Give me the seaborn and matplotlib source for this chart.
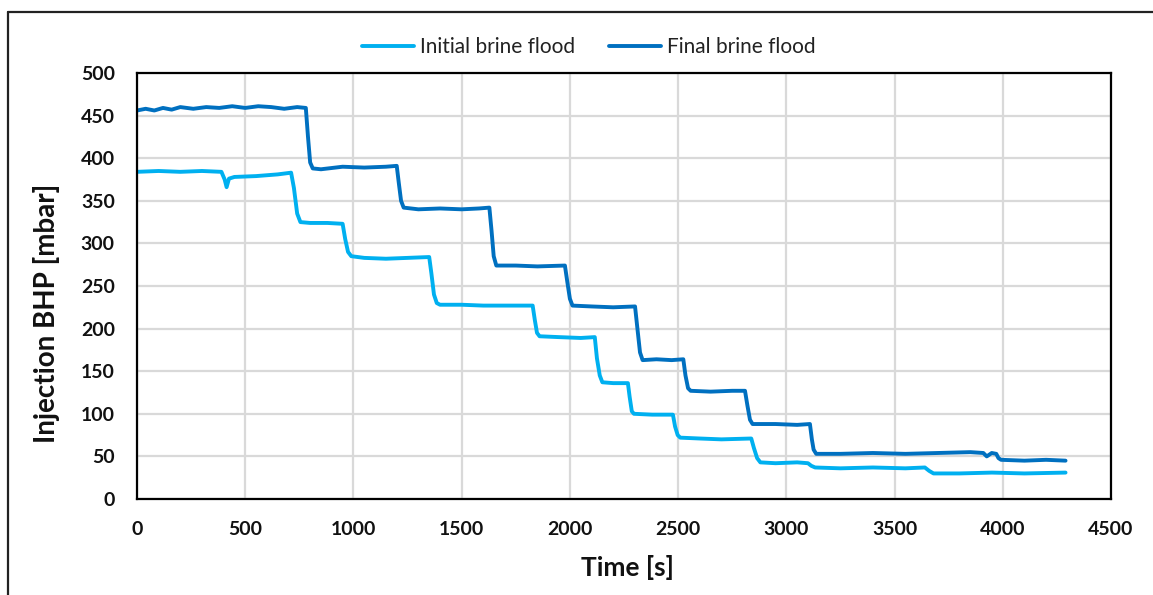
import matplotlib
matplotlib.use("Agg")
import matplotlib.pyplot as plt
from matplotlib.lines import Line2D
import seaborn as sns
import pandas as pd

# ---------------- data ----------------
initial_time = [
    0, 100, 200, 300, 390, 405, 414, 425, 450, 550, 650, 712,
    725, 740, 755, 800, 880, 950,
    962, 975, 990, 1050, 1150, 1250, 1350,
    1360, 1372, 1385, 1400, 1500, 1600, 1700, 1828,
    1838, 1848, 1860, 1950, 2050, 2115,
    2125, 2138, 2150, 2200, 2268,
    2276, 2286, 2296, 2380, 2476,
    2486, 2498, 2510, 2600, 2700, 2838,
    2850, 2865, 2880, 2950, 3050, 3100,
    3115, 3133, 3250, 3400, 3550, 3640,
    3660, 3680, 3800, 3950, 4100, 4290]
initial_bhp = [
    384, 385, 384, 385, 384, 375, 366, 376, 378, 379, 381, 383,
    365, 335, 325, 324, 324, 323,
    305, 290, 285, 283, 282, 283, 284,
    265, 240, 230, 228, 228, 227, 227, 227,
    210, 195, 191, 190, 189, 190,
    165, 145, 137, 136, 136,
    120, 103, 100, 99, 99,
    85, 75, 72, 71, 70, 71,
    60, 48, 43, 42, 43, 42,
    39, 37, 36, 37, 36, 37,
    33, 30, 30, 31, 30, 31]

final_time = [
    0, 40, 80, 120, 160, 200, 260, 320, 380, 440, 500, 560, 620, 680, 740, 780,
    790, 800, 812, 850, 950, 1050, 1150, 1200,
    1210, 1220, 1232, 1300, 1400, 1500, 1580, 1628,
    1638, 1648, 1660, 1750, 1850, 1977,
    1988, 2000, 2012, 2100, 2200, 2301,
    2312, 2324, 2336, 2400, 2470, 2524,
    2534, 2546, 2558, 2650, 2750, 2809,
    2820, 2832, 2844, 2950, 3050, 3109,
    3118, 3126, 3138, 3250, 3400, 3550, 3700, 3850, 3910, 3926, 3949, 3970,
    3980, 3992, 4100, 4200, 4290]
final_bhp = [
    456, 458, 456, 459, 457, 460, 458, 460, 459, 461, 459, 461, 460, 458, 460, 459,
    425, 395, 388, 387, 390, 389, 390, 391,
    370, 350, 342, 340, 341, 340, 341, 342,
    315, 285, 274, 274, 273, 274,
    255, 235, 227, 226, 225, 226,
    200, 172, 163, 164, 163, 164,
    145, 130, 127, 126, 127, 127,
    110, 93, 88, 88, 87, 88,
    70, 58, 53, 53, 54, 53, 54, 55, 54, 50, 54, 53,
    48, 46, 45, 46, 45]

series_names = ["Initial brine flood", "Final brine flood"]
series_colors = ["#00B0F0", "#0070C0"]
x_ticks = [0, 500, 1000, 1500, 2000, 2500, 3000, 3500, 4000, 4500]
y_ticks = [0, 50, 100, 150, 200, 250, 300, 350, 400, 450, 500]

df = pd.concat([
    pd.DataFrame({"Time": initial_time, "BHP": initial_bhp, "Series": series_names[0]}),
    pd.DataFrame({"Time": final_time, "BHP": final_bhp, "Series": series_names[1]}),
], ignore_index=True)

# ---------------- style ----------------
sns.set_theme(style="whitegrid")
plt.rcParams["font.family"] = ["Lato", "DejaVu Sans"]

W, H = 1153, 595
fig = plt.figure(figsize=(W / 100, H / 100), dpi=100)
L, R, T, B = 137, 1111, 73, 499
ax = fig.add_axes([L / W, 1 - B / H, (R - L) / W, (B - T) / H])

sns.lineplot(data=df, x="Time", y="BHP", hue="Series", hue_order=series_names,
             palette=series_colors, linewidth=2.8, estimator=None, sort=False,
             ax=ax, legend=False)

ax.set_xlim(0, 4500)
ax.set_ylim(0, 500)
ax.set_xticks(x_ticks)
ax.set_yticks(y_ticks)
ax.set_xticklabels([str(v) for v in x_ticks], fontsize=14, fontweight="bold", color="#111111")
ax.set_yticklabels([str(v) for v in y_ticks], fontsize=14, fontweight="bold", color="#111111")
ax.tick_params(axis="x", length=0, pad=16)
ax.tick_params(axis="y", length=0, pad=16)
ax.grid(True, color="#D9D9D9", linewidth=1.6)
ax.set_facecolor("white")
for s in ax.spines.values():
    s.set_visible(True)
    s.set_color("black")
    s.set_linewidth(1.6)

ax.set_xlabel("Time [s]", fontsize=19, fontweight="bold", color="#111111")
ax.set_ylabel("Injection BHP [mbar]", fontsize=20, fontweight="bold", color="#111111")
ax.xaxis.label.set_va("center")
ax.yaxis.label.set_va("center")
ax.xaxis.set_label_coords((627 - L) / (R - L), -(567 - B) / (B - T))
ax.yaxis.set_label_coords(-(L - 47) / (R - L), (B - 313) / (B - T))

handles = [Line2D([0], [0], color=c, linewidth=2.8) for c in series_colors]
fig.legend(handles, series_names, loc="center", bbox_to_anchor=(589 / W, 1 - 47 / H),
           ncol=2, frameon=False, fontsize=15, handlelength=2.5, handletextpad=0.3,
           columnspacing=1.6, labelcolor="#222222")

# outer frame (left and top edges visible in the reference)
fig.add_artist(Line2D([8 / W, 8 / W], [0, 1 - 12 / H], color="#222222",
                      linewidth=1.6, transform=fig.transFigure))
fig.add_artist(Line2D([8 / W, 1], [1 - 12 / H, 1 - 12 / H], color="#222222",
                      linewidth=1.6, transform=fig.transFigure))

fig.savefig("out.png", dpi=100, facecolor="white")
